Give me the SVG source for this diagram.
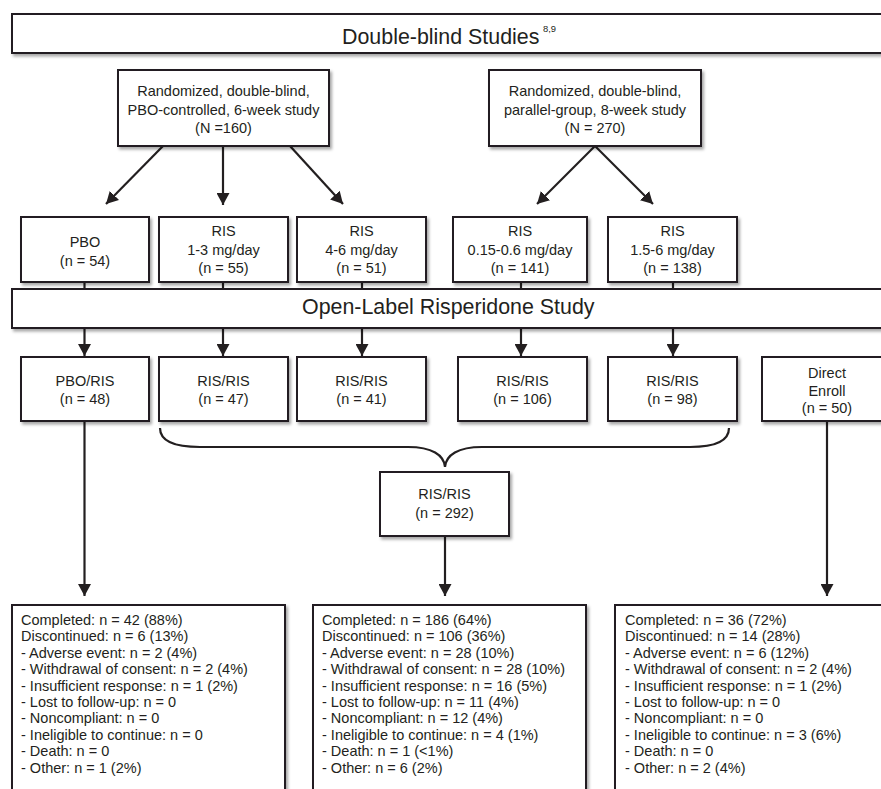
<svg xmlns="http://www.w3.org/2000/svg" width="881" height="789" viewBox="0 0 881 789">
<defs>
<style>
.box{fill:#fff;stroke:#231f20;stroke-width:2;filter:url(#sh)}
.t{font-family:"Liberation Sans",Arial,sans-serif;font-size:14.5px;fill:#231f20;text-anchor:middle}
.tl{font-family:"Liberation Sans",Arial,sans-serif;font-size:14.5px;fill:#231f20}
.big{font-family:"Liberation Sans",Arial,sans-serif;font-size:21.4px;fill:#231f20}
.sup{font-family:"Liberation Sans",Arial,sans-serif;font-size:9.4px;fill:#231f20}
.c{fill:none;stroke:#231f20;stroke-width:2.2}
.a{marker-end:url(#ah)}
</style>
<filter id="sh" x="-10%" y="-10%" width="125%" height="140%">
<feDropShadow dx="2" dy="2.5" stdDeviation="1.6" flood-color="#000" flood-opacity="0.35"/>
</filter>
<marker id="ah" markerUnits="userSpaceOnUse" markerWidth="13" markerHeight="13" refX="12" refY="6.5" orient="auto">
<path d="M0,0 L12,6.5 L0,13 Z" fill="#231f20"/>
</marker>
</defs>
<rect width="881" height="789" fill="#fff"/>

<g id="connectors">
<line class="c a" x1="163" y1="146" x2="106" y2="204"/>
<line class="c a" x1="223" y1="146" x2="223" y2="205"/>
<line class="c a" x1="290" y1="146" x2="343" y2="204"/>
<line class="c a" x1="595" y1="146" x2="537" y2="204"/>
<line class="c a" x1="595" y1="146" x2="653" y2="204"/>
<line class="c" x1="84.5" y1="282" x2="84.5" y2="289"/>
<line class="c" x1="223" y1="282" x2="223" y2="289"/>
<line class="c" x1="362" y1="282" x2="362" y2="289"/>
<line class="c" x1="521" y1="282" x2="521" y2="289"/>
<line class="c" x1="673" y1="282" x2="673" y2="289"/>
<line class="c a" x1="84.5" y1="328" x2="84.5" y2="356"/>
<line class="c a" x1="223" y1="328" x2="223" y2="356"/>
<line class="c a" x1="362" y1="328" x2="362" y2="356"/>
<line class="c a" x1="521" y1="328" x2="521" y2="356"/>
<line class="c a" x1="673" y1="328" x2="673" y2="356"/>
<path class="c" d="M160,428 C160,442 176,447 200,447 L408,447 C432,447 444,455 445,467 C446,455 458,447 482,447 L690,447 C714,447 729,442 729,428"/>
<line class="c a" x1="84.5" y1="421" x2="84.5" y2="596"/>
<line class="c a" x1="445" y1="536" x2="445" y2="596"/>
<line class="c a" x1="827" y1="421" x2="827" y2="596"/>
</g>

<g id="header">
<rect class="box" x="12" y="14" width="890" height="39"/>
<text class="big" x="342" y="44">Double-blind Studies</text>
<text class="sup" x="543" y="32">8,9</text>
</g>

<g id="study1">
<rect class="box" x="118" y="70" width="211" height="76"/>
<text class="t" x="223.5" y="96">Randomized, double-blind,</text>
<text class="t" x="223.5" y="115">PBO-controlled, 6-week study</text>
<text class="t" x="223.5" y="133">(N =160)</text>
</g>

<g id="study2">
<rect class="box" x="489" y="70" width="212" height="76"/>
<text class="t" x="595" y="96">Randomized, double-blind,</text>
<text class="t" x="595" y="115">parallel-group, 8-week study</text>
<text class="t" x="595" y="133">(N = 270)</text>
</g>

<g id="pbo">
<rect class="box" x="21" y="217" width="128" height="65"/>
<text class="t" x="85" y="247">PBO</text>
<text class="t" x="85" y="266">(n = 54)</text>
</g>
<g id="ris13">
<rect class="box" x="159" y="217" width="129" height="65"/>
<text class="t" x="223.5" y="236">RIS</text>
<text class="t" x="223.5" y="254.5">1-3 mg/day</text>
<text class="t" x="223.5" y="273">(n = 55)</text>
</g>
<g id="ris46">
<rect class="box" x="297" y="217" width="129" height="65"/>
<text class="t" x="361.5" y="236">RIS</text>
<text class="t" x="361.5" y="254.5">4-6 mg/day</text>
<text class="t" x="361.5" y="273">(n = 51)</text>
</g>
<g id="ris015">
<rect class="box" x="453" y="217" width="134" height="65"/>
<text class="t" x="520" y="236">RIS</text>
<text class="t" x="520" y="254.5">0.15-0.6 mg/day</text>
<text class="t" x="520" y="273">(n = 141)</text>
</g>
<g id="ris156">
<rect class="box" x="608" y="217" width="129" height="65"/>
<text class="t" x="672.5" y="236">RIS</text>
<text class="t" x="672.5" y="254.5">1.5-6 mg/day</text>
<text class="t" x="672.5" y="273">(n = 138)</text>
</g>

<g id="openlabel">
<rect class="box" x="12" y="289" width="890" height="39"/>
<text class="big" x="302" y="314">Open-Label Risperidone Study</text>
</g>

<g id="pboris">
<rect class="box" x="21" y="357" width="128" height="64"/>
<text class="t" x="85" y="386">PBO/RIS</text>
<text class="t" x="85" y="404">(n = 48)</text>
</g>
<g id="risris47">
<rect class="box" x="159" y="357" width="129" height="64"/>
<text class="t" x="223.5" y="386">RIS/RIS</text>
<text class="t" x="223.5" y="404">(n = 47)</text>
</g>
<g id="risris41">
<rect class="box" x="297" y="357" width="129" height="64"/>
<text class="t" x="361.5" y="386">RIS/RIS</text>
<text class="t" x="361.5" y="404">(n = 41)</text>
</g>
<g id="risris106">
<rect class="box" x="458" y="357" width="129" height="64"/>
<text class="t" x="522.5" y="386">RIS/RIS</text>
<text class="t" x="522.5" y="404">(n = 106)</text>
</g>
<g id="risris98">
<rect class="box" x="608" y="357" width="129" height="64"/>
<text class="t" x="672.5" y="386">RIS/RIS</text>
<text class="t" x="672.5" y="404">(n = 98)</text>
</g>
<g id="direct">
<rect class="box" x="762" y="357" width="140" height="64"/>
<text class="t" x="827" y="378">Direct</text>
<text class="t" x="827" y="395.5">Enroll</text>
<text class="t" x="827" y="413">(n = 50)</text>
</g>

<g id="risris292">
<rect class="box" x="380" y="472" width="129" height="64"/>
<text class="t" x="444.5" y="499">RIS/RIS</text>
<text class="t" x="444.5" y="518">(n = 292)</text>
</g>

<g id="out-pbo">
<rect class="box" x="12" y="605" width="273" height="200"/>
<text class="tl" x="21" y="625">
<tspan x="21" y="625">Completed: n = 42 (88%)</tspan>
<tspan x="21" y="641.4">Discontinued: n = 6 (13%)</tspan>
<tspan x="21" y="657.8">- Adverse event: n = 2 (4%)</tspan>
<tspan x="21" y="674.2">- Withdrawal of consent: n = 2 (4%)</tspan>
<tspan x="21" y="690.6">- Insufficient response: n = 1 (2%)</tspan>
<tspan x="21" y="707">- Lost to follow-up: n = 0</tspan>
<tspan x="21" y="723.4">- Noncompliant: n = 0</tspan>
<tspan x="21" y="739.8">- Ineligible to continue: n = 0</tspan>
<tspan x="21" y="756.2">- Death: n = 0</tspan>
<tspan x="21" y="772.6">- Other: n = 1 (2%)</tspan>
</text>
</g>

<g id="out-ris">
<rect class="box" x="313" y="605" width="273" height="200"/>
<text class="tl" x="322" y="625">
<tspan x="322" y="625">Completed: n = 186 (64%)</tspan>
<tspan x="322" y="641.4">Discontinued: n = 106 (36%)</tspan>
<tspan x="322" y="657.8">- Adverse event: n = 28 (10%)</tspan>
<tspan x="322" y="674.2">- Withdrawal of consent: n = 28 (10%)</tspan>
<tspan x="322" y="690.6">- Insufficient response: n = 16 (5%)</tspan>
<tspan x="322" y="707">- Lost to follow-up: n = 11 (4%)</tspan>
<tspan x="322" y="723.4">- Noncompliant: n = 12 (4%)</tspan>
<tspan x="322" y="739.8">- Ineligible to continue: n = 4 (1%)</tspan>
<tspan x="322" y="756.2">- Death: n = 1 (&lt;1%)</tspan>
<tspan x="322" y="772.6">- Other: n = 6 (2%)</tspan>
</text>
</g>

<g id="out-direct">
<rect class="box" x="615" y="605" width="290" height="200"/>
<text class="tl" x="625" y="625">
<tspan x="625" y="625">Completed: n = 36 (72%)</tspan>
<tspan x="625" y="641.4">Discontinued: n = 14 (28%)</tspan>
<tspan x="625" y="657.8">- Adverse event: n = 6 (12%)</tspan>
<tspan x="625" y="674.2">- Withdrawal of consent: n = 2 (4%)</tspan>
<tspan x="625" y="690.6">- Insufficient response: n = 1 (2%)</tspan>
<tspan x="625" y="707">- Lost to follow-up: n = 0</tspan>
<tspan x="625" y="723.4">- Noncompliant: n = 0</tspan>
<tspan x="625" y="739.8">- Ineligible to continue: n = 3 (6%)</tspan>
<tspan x="625" y="756.2">- Death: n = 0</tspan>
<tspan x="625" y="772.6">- Other: n = 2 (4%)</tspan>
</text>
</g>
</svg>
